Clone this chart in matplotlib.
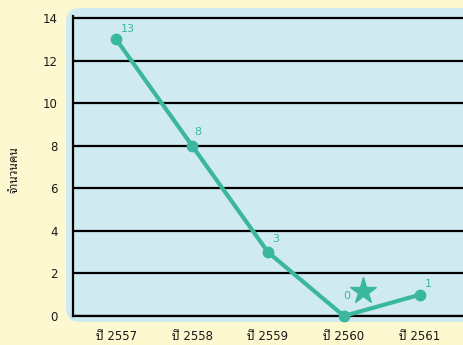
import matplotlib
matplotlib.use("Agg")
import matplotlib.pyplot as plt
from matplotlib.patches import FancyBboxPatch
from matplotlib.transforms import IdentityTransform

plt.rcParams['font.family'] = ['DejaVu Sans', 'Noto Sans Thai Looped']

years = ['ปี 2557', 'ปี 2558', 'ปี 2559', 'ปี 2560', 'ปี 2561']
people = [13, 8, 3, 0, 1]
label_off = [(12, 10), (6, 14), (8, 13), (3, 20), (9, 11)]
star_xy = (3.25, 1.17)

teal = '#3bb79f'

fig = plt.figure(figsize=(4.63, 3.45), dpi=100, facecolor='#fdf8d0')
# rounded light-blue panel, in pixels
bg = FancyBboxPatch((66, 23), 420, 314,
                    boxstyle='round,pad=0,rounding_size=14',
                    transform=IdentityTransform(), facecolor='#cfebf1',
                    edgecolor='none', zorder=-5)
fig.patches.append(bg)

ax = fig.add_axes([73 / 463, 29 / 345, 1 - 73 / 463, 300 / 345])
ax.set_facecolor('none')
x = list(range(len(years)))
ax.plot(x, people, color=teal, lw=3, marker='o', ms=7.5, zorder=3, clip_on=False)
for xi, v, off in zip(x, people, label_off):
    ax.annotate(str(v), (xi, v), xytext=off, textcoords='offset pixels',
                color=teal, fontsize=8, ha='center', va='center')
ax.plot(*star_xy, marker='*', ms=20, color=teal, zorder=3)

ax.set_xlim(-0.57, 4.57)
ax.set_ylim(0, 14.1)
ax.set_yticks(range(0, 15, 2))
ax.set_xticks(x)
ax.set_xticklabels(years)
ax.yaxis.grid(True, color='black', lw=1.6)
ax.set_axisbelow(True)
ax.tick_params(length=0, labelsize=8.5, colors='#1a1a1a')
ax.tick_params(axis='y', pad=11)
ax.tick_params(axis='x', pad=10)
for s in ['top', 'right']:
    ax.spines[s].set_visible(False)
ax.spines['left'].set_linewidth(1.6)
ax.spines['bottom'].set_linewidth(1.6)

fig.text(14 / 463, 1 - 170 / 345, 'จำนวนคน', rotation=90, fontsize=8.5,
         ha='center', va='center', color='#1a1a1a')

fig.savefig('out.png', dpi=100, facecolor=fig.get_facecolor())
